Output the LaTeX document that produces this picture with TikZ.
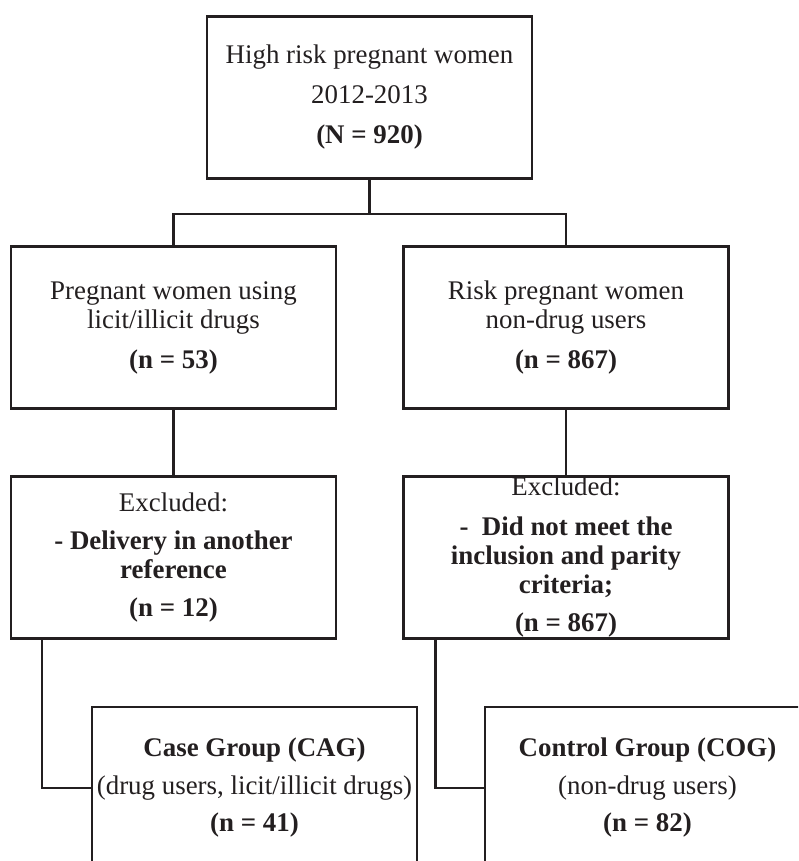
\documentclass[tikz,border=0pt]{standalone}
\usepackage{fontspec}
\setmainfont{Liberation Serif}
\definecolor{ink}{HTML}{231F20}
\begin{document}
\begin{tikzpicture}[x=1pt, y=-1pt, line width=2.1pt, draw=ink,
box node/.style={rectangle,draw=ink,line width=2.1pt,minimum width=325pt,minimum height=162pt,inner sep=0pt,align=center,text=ink,font=\fontsize{26.9}{29}\selectfont}]
\useasboundingbox (0,0) rectangle (798,861);
\clip (0,0) rectangle (798,861);
\begin{scope}
\node[box node] (all) at (369.5,97.5) {High risk pregnant women\\[11pt]2012-2013\\[11pt]\textbf{(N = 920)}};%1
\node[box node] (users) at (173.5,327.5) {Pregnant women using\\licit/illicit drugs\\[11pt]\textbf{(n = 53)}};%2
\node[box node] (nonusers) at (566,327.5) {Risk pregnant women\\non-drug users\\[11pt]\textbf{(n = 867)}};%3
\node[box node] (exclA) at (173.5,557.5) {Excluded:\\[9pt]\textbf{- Delivery in another}\\\textbf{reference}\\[9pt]\textbf{(n = 12)}};%4
\node[box node] (exclB) at (566,557.5) {Excluded:\\[11pt]\textbf{- \ Did not meet the}\\\textbf{inclusion and parity}\\\textbf{criteria;}\\[9pt]\textbf{(n = 867)}};%5
\node[box node] (cag) at (254.5,788) {\textbf{Case Group (CAG)}\\[9pt](drug users, licit/illicit drugs)\\[8pt]\textbf{(n = 41)}};%6
\node[box node] (cog) at (647.5,788) {\textbf{Control Group (COG)}\\[9pt](non-drug users)\\[8pt]\textbf{(n = 82)}};%7
\end{scope}
\begin{scope}[every edge/.style={draw=ink,line width=2.1pt}]
\draw (all.south) -- ++(0,34) coordinate (split) -| (users.north);
\draw (split) -| (nonusers.north);
\draw (users) edge node{} (exclA);
\draw (nonusers) edge node{} (exclB);
\draw ([xshift=32pt]exclA.south west) |- (cag.west);
\draw ([xshift=33pt]exclB.south west) |- (cog.west);
\end{scope}
\end{tikzpicture}
\end{document}
